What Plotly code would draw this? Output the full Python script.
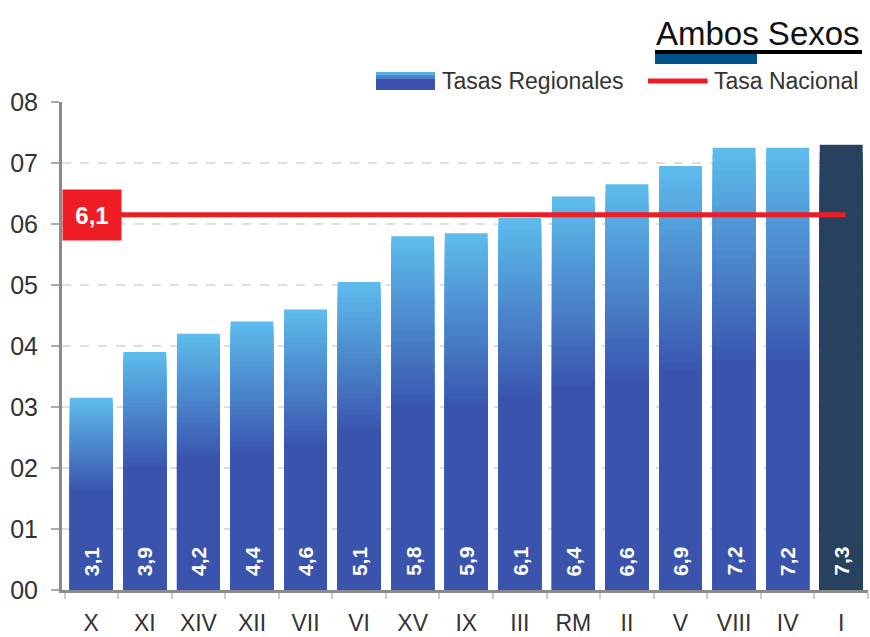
import plotly.graph_objects as go

# ---- data ----
regiones = ["X", "XI", "XIV", "XII", "VII", "VI", "XV", "IX", "III", "RM", "II", "V", "VIII", "IV", "I"]
tasas = [3.15, 3.9, 4.2, 4.4, 4.6, 5.05, 5.8, 5.85, 6.1, 6.45, 6.65, 6.95, 7.25, 7.25, 7.3]
etiquetas = ["3,1", "3,9", "4,2", "4,4", "4,6", "5,1", "5,8", "5,9", "6,1", "6,4", "6,6", "6,9", "7,2", "7,2", "7,3"]
tasa_nacional = 6.15
etiqueta_nacional = "6,1"
y_ticks = [0, 1, 2, 3, 4, 5, 6, 7, 8]
y_ticktext = ["00", "01", "02", "03", "04", "05", "06", "07", "08"]
destacada = "I"

FONT = "Liberation Sans, Arial, sans-serif"
TOP = (93, 187, 236)
BOT = (58, 84, 174)
DARK = "#27415f"
RED = "#ee1c25"


def mix(t):
    r = [round(TOP[i] * (1 - t) + BOT[i] * t) for i in range(3)]
    return f"rgb({r[0]},{r[1]},{r[2]})"


fig = go.Figure()

# gradient bars built from overlaid bars (style only)
n_layers = 30
for k in range(n_layers):
    frac = 1.0 - k * (0.48 / (n_layers - 1))
    col = mix(k / (n_layers - 1))
    colors = [DARK if r == destacada else col for r in regiones]
    fig.add_trace(go.Bar(
        x=regiones, y=[v * frac for v in tasas],
        marker=dict(color=colors, line=dict(width=0)),
        width=0.8, showlegend=False, hoverinfo="skip",
    ))

fig.update_layout(
    barmode="overlay",
    width=870, height=637,
    margin=dict(l=62, r=2, t=102, b=47, autoexpand=False),
    plot_bgcolor="white", paper_bgcolor="white",
    font=dict(family=FONT, color="#333"),
    showlegend=False,
)

fig.update_yaxes(
    range=[0, 8], tickvals=y_ticks, ticktext=y_ticktext,
    showline=True, linewidth=3, linecolor="#8a8a8a",
    ticks="outside", ticklen=8, tickwidth=2, tickcolor="#aaa",
    showgrid=True, gridcolor="#dedede", gridwidth=2, griddash="dash",
    zeroline=False, tickfont=dict(size=25, color="#333", family=FONT),
    ticklabelstandoff=8, automargin=False,
)
fig.update_xaxes(
    showline=True, linewidth=3, linecolor="#8a8a8a",
    ticks="outside", tickson="boundaries", ticklen=6, tickwidth=2, tickcolor="#ccc",
    tickfont=dict(size=23, color="#333", family=FONT), ticklabelstandoff=10,
    tickangle=0, automargin=False,
)

# national line
fig.add_shape(type="line", xref="x", yref="y", x0=-0.5, x1=len(regiones) - 1 + 0.08,
              y0=tasa_nacional, y1=tasa_nacional, line=dict(color=RED, width=5), layer="above")

# national label box
fig.add_annotation(x=0, xref="paper", xanchor="left", y=tasa_nacional, yref="y",
                   text=f"<b>{etiqueta_nacional}</b>", showarrow=False,
                   font=dict(size=24, color="white", family=FONT),
                   bgcolor=RED, width=52, height=44, borderpad=3)

# bar value labels
for r, t in zip(regiones, etiquetas):
    fig.add_annotation(x=r, y=0, xref="x", yref="y", yanchor="bottom", yshift=12,
                       text=f"<b>{t}</b>", textangle=-90, showarrow=False,
                       font=dict(size=21, color="white", family=FONT))

# title
fig.add_annotation(x=0.9926, xref="paper", xanchor="right", y=1.14, yref="paper",
                   yanchor="middle", text="Ambos Sexos", showarrow=False,
                   font=dict(size=33, color="#111", family=FONT))
fig.add_shape(type="line", xref="paper", yref="paper", x0=0.7357, x1=0.9926,
              y0=1.1025, y1=1.1025, line=dict(color="black", width=4))
fig.add_shape(type="rect", xref="paper", yref="paper", x0=0.7357, x1=0.8623,
              y0=1.0779, y1=1.0984, line=dict(width=0), fillcolor="#00508a")

# manual legend
fig.add_shape(type="rect", xref="paper", yref="paper", x0=0.3896, x1=0.4628,
              y0=1.0246, y1=1.0615, line=dict(width=0), fillcolor="#3a52ae")
fig.add_shape(type="rect", xref="paper", yref="paper", x0=0.3896, x1=0.4628,
              y0=1.047, y1=1.0615, line=dict(width=0), fillcolor="#4a80cc")
fig.add_shape(type="rect", xref="paper", yref="paper", x0=0.3896, x1=0.4628,
              y0=1.055, y1=1.0615, line=dict(width=0), fillcolor="#5aaee0")
fig.add_annotation(x=0.469, xref="paper", xanchor="left", y=1.043, yref="paper",
                   yanchor="middle", text="Tasas Regionales", showarrow=False,
                   font=dict(size=23, color="#333", family=FONT))
fig.add_shape(type="line", xref="paper", yref="paper", x0=0.727, x1=0.801,
              y0=1.043, y1=1.043, line=dict(color=RED, width=5))
fig.add_annotation(x=0.806, xref="paper", xanchor="left", y=1.043, yref="paper",
                   yanchor="middle", text="Tasa Nacional", showarrow=False,
                   font=dict(size=23, color="#333", family=FONT))

fig.write_html("out.html", config={"displayModeBar": False},
               post_script="document.body.style.margin='0';document.body.style.overflow='hidden';")
